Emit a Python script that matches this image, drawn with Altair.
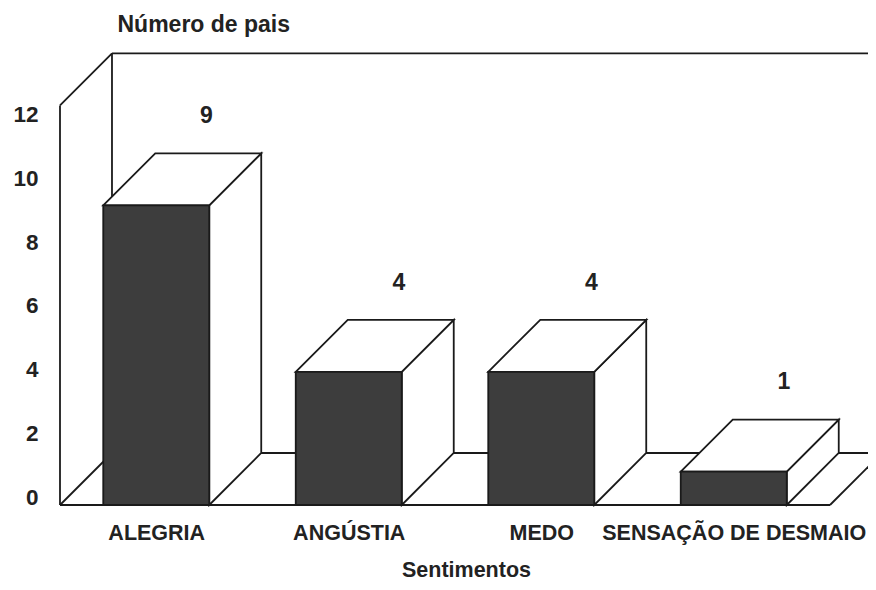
import json
import altair as alt
import pandas as pd

# ---- data ----
categories = ["ALEGRIA", "ANGÚSTIA", "MEDO", "SENSAÇÃO DE DESMAIO"]
counts = [9, 4, 4, 1]
y_ticks = [0, 2, 4, 6, 8, 10, 12]
y_title = "Número de pais"
x_title = "Sentimentos"

# ---- geometry (scale units) ----
W, H = 860, 574
X_DOMAIN = [-0.7701, 3.6974]      # category index scale
Y_DOMAIN = [-2.3123, 14.9249]     # value scale (front plane)
TICK_DOMAIN = [-2.670, 15.361]    # value scale used by the printed tick labels
HALF_W = 0.2753                   # half bar width
DX, DY = 0.2701, 1.5616           # 3D depth offset
WALL_TOP = 12
FLOOR_L, FLOOR_R = -0.5, 3.5
LABEL_GAP = 1.12

LINE = "#1a1a1a"
FRONT = "#3d3d3d"
TEXT = "#222222"
FONT = "Liberation Sans"
SW = 1.8

xs = alt.Scale(domain=X_DOMAIN, nice=False, zero=False)
ys = alt.Scale(domain=Y_DOMAIN, nice=False, zero=False)

label_arr = json.dumps(categories, ensure_ascii=False)
X_AXIS = alt.Axis(
    values=list(range(len(categories))),
    labelExpr=f"{label_arr}[datum.value]",
    orient="bottom", offset=-49, domain=False, ticks=False, tickSize=0,
    grid=False, labelPadding=0, labelBaseline="middle", labelLimit=0,
    labelFont=FONT, labelFontSize=21.5, labelFontWeight="bold", labelColor=TEXT,
    labelFlush=False, labelOverlap=False,
    title=x_title, titleX=458, titleY=37, titleBaseline="middle",
    titleAlign="center", titleFont=FONT, titleFontSize=21.5,
    titleFontWeight="bold", titleColor=TEXT,
)

# ---- frame (walls and floor) ----
fx0, fx1 = FLOOR_L, FLOOR_R
segs = [
    (fx0, 0, fx1, 0),
    (fx0 + DX, DY, fx1 + DX, DY),
    (fx0, 0, fx0 + DX, DY),
    (fx1, 0, fx1 + DX, DY),
    (fx0, 0, fx0, WALL_TOP),
    (fx0, WALL_TOP, fx0 + DX, WALL_TOP + DY),
    (fx0 + DX, DY, fx0 + DX, WALL_TOP + DY),
    (fx0 + DX, WALL_TOP + DY, fx1 + DX, WALL_TOP + DY),
    (fx1 + DX, DY, fx1 + DX, WALL_TOP + DY),
]
frame_df = pd.DataFrame(segs, columns=["x", "y", "x2", "y2"])

frame = alt.Chart(frame_df).mark_rule(color=LINE, strokeWidth=SW).encode(
    x=alt.X("x:Q", scale=xs, axis=X_AXIS),
    x2="x2:Q",
    y=alt.Y("y:Q", scale=ys, axis=None),
    y2="y2:Q",
)

# ---- bars ----
front_rows, top_rows, side_rows, lab_rows = [], [], [], []
for i, (c, v) in enumerate(zip(categories, counts)):
    x0, x1 = i - HALF_W, i + HALF_W
    front_rows.append({"cat": c, "x0": x0, "x1": x1, "lo": 0, "hi": v})
    for x, lo, hi in [(x0, v, v), (x0 + DX, v, v + DY),
                      (x1, v, v + DY), (x1 + DX, v + DY, v + DY)]:
        top_rows.append({"cat": c, "x": x, "lo": lo, "hi": hi})
    for x, lo, hi in [(x1, 0, v), (x1 + DX, DY, v + DY)]:
        side_rows.append({"cat": c, "x": x, "lo": lo, "hi": hi})
    lab_rows.append({"cat": c, "x": i + DX - 0.01, "y": v + DY + LABEL_GAP,
                     "label": str(v)})

front_df = pd.DataFrame(front_rows)
top_df = pd.DataFrame(top_rows)
side_df = pd.DataFrame(side_rows)
lab_df = pd.DataFrame(lab_rows)

face_style = dict(fill="white", stroke=LINE, strokeWidth=SW,
                  strokeJoin="miter", opacity=1)

sides = alt.Chart(side_df).mark_area(**face_style).encode(
    x=alt.X("x:Q", scale=xs, axis=X_AXIS),
    y=alt.Y("lo:Q", scale=ys, axis=None),
    y2="hi:Q",
    detail="cat:N",
)
tops = alt.Chart(top_df).mark_area(**face_style).encode(
    x=alt.X("x:Q", scale=xs, axis=X_AXIS),
    y=alt.Y("lo:Q", scale=ys, axis=None),
    y2="hi:Q",
    detail="cat:N",
)
fronts = alt.Chart(front_df).mark_rect(
    fill=FRONT, stroke=LINE, strokeWidth=SW
).encode(
    x=alt.X("x0:Q", scale=xs, axis=X_AXIS),
    x2="x1:Q",
    y=alt.Y("lo:Q", scale=ys, axis=None),
    y2="hi:Q",
)
values = alt.Chart(lab_df).mark_text(
    font=FONT, fontSize=23, fontWeight="bold", color=TEXT, baseline="middle"
).encode(
    x=alt.X("x:Q", scale=xs, axis=X_AXIS),
    y=alt.Y("y:Q", scale=ys, axis=None),
    text="label:N",
)

main = alt.layer(frame, sides, tops, fronts, values)

# ---- printed value axis ----
tick_df = pd.DataFrame({"t": y_ticks})
ticks = alt.Chart(tick_df).mark_point(opacity=0).encode(
    y=alt.Y("t:Q", scale=alt.Scale(domain=TICK_DOMAIN, nice=False, zero=False),
            axis=alt.Axis(
                orient="left", values=y_ticks, offset=-30, domain=False,
                ticks=False, tickSize=0, grid=False, labelPadding=0,
                labelFont=FONT, labelFontSize=22.5, labelFontWeight="bold",
                labelColor=TEXT, labelFlush=False, labelOverlap=False,
                title=y_title, titleAngle=0, titleAlign="left",
                titleBaseline="middle", titleX=79, titleY=16,
                titleFont=FONT, titleFontSize=23, titleFontWeight="bold",
                titleColor=TEXT,
            )),
)

chart = alt.layer(main, ticks).resolve_scale(y="independent").properties(
    width=W, height=H,
    autosize=alt.AutoSizeParams(type="none"),
    padding=0,
    background="white",
).configure_view(stroke=None)

chart.save("out.html", embed_options={"renderer": "svg", "actions": False})
